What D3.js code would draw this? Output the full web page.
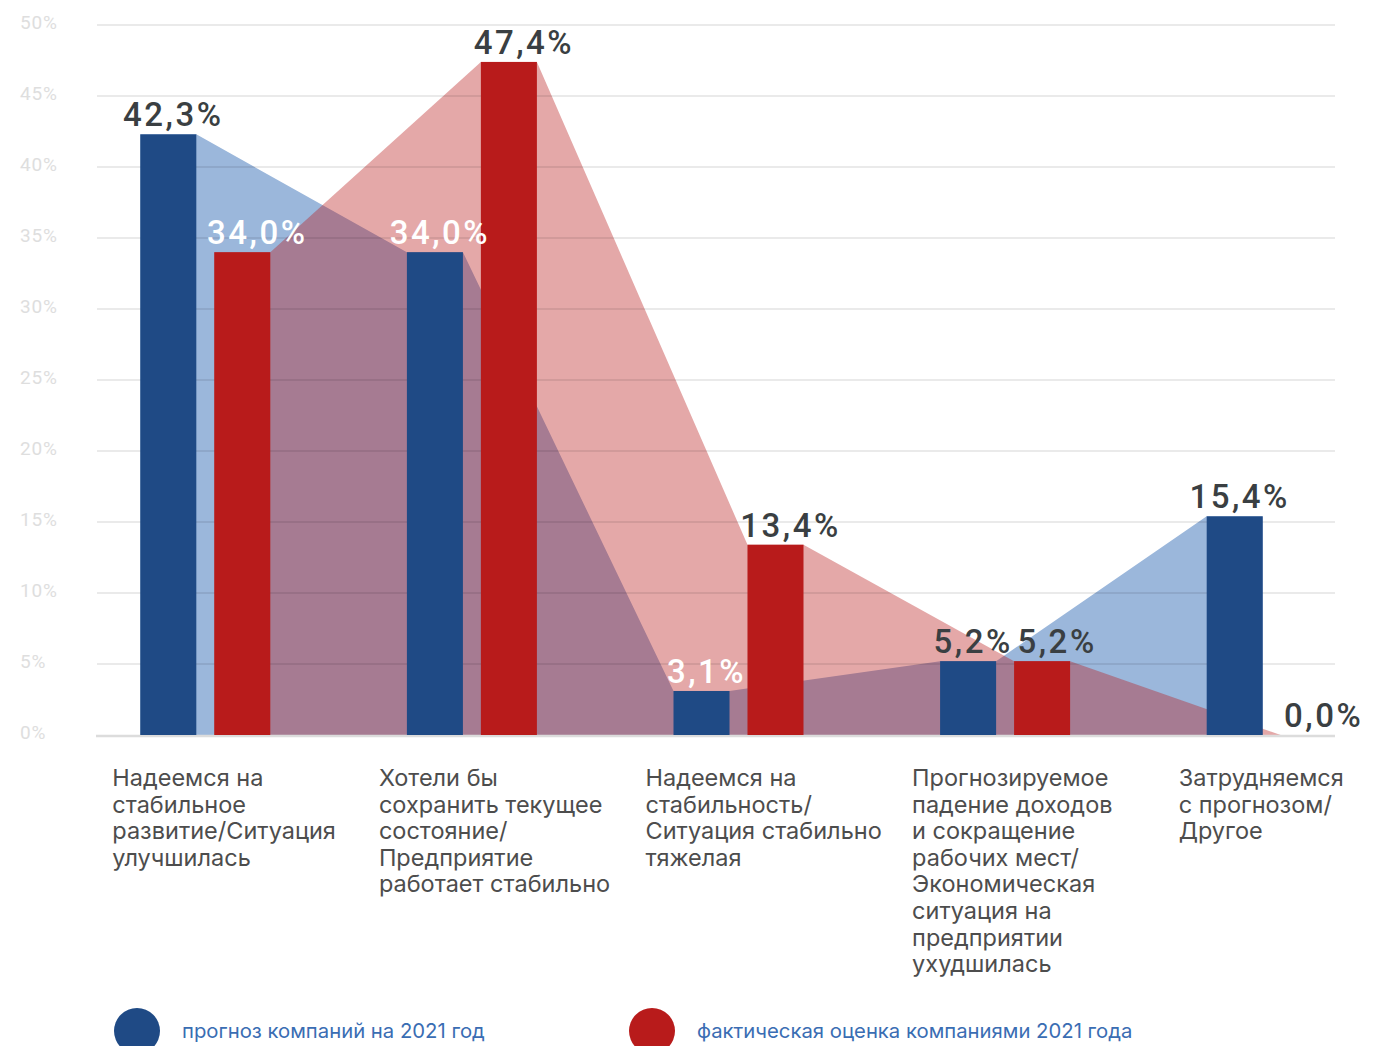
<!DOCTYPE html>
<html>
<head>
<meta charset="utf-8">
<script src="https://cdn.jsdelivr.net/npm/d3@7"></script>
<style>
  html, body { margin: 0; padding: 0; background: #fff; }
  svg { display: block; }
</style>
</head>
<body>
<svg id="chart"></svg>
<script>
const categories = [
  ['Надеемся на', 'стабильное', 'развитие/Ситуация', 'улучшилась'],
  ['Хотели бы', 'сохранить текущее', 'состояние/', 'Предприятие', 'работает стабильно'],
  ['Надеемся на', 'стабильность/', 'Ситуация стабильно', 'тяжелая'],
  ['Прогнозируемое', 'падение доходов', 'и сокращение', 'рабочих мест/', 'Экономическая', 'ситуация на', 'предприятии', 'ухудшилась'],
  ['Затрудняемся', 'с прогнозом/', 'Другое']
];
const forecast = [42.3, 34.0, 3.1, 5.2, 15.4];
const actual = [34.0, 47.4, 13.4, 5.2, 0.0];
const seriesNames = ['прогноз компаний на 2021 год', 'фактическая оценка компаниями 2021 года'];
const yTicks = [0, 5, 10, 15, 20, 25, 30, 35, 40, 45, 50];

const width = 1380, height = 1046;
const barColor = ['#1f4a85', '#b81b1b'];
const areaColor = ['#9bb7db', 'rgba(184,27,27,0.38)'];
const labelShift = [5, 15];

const svg = d3.select('#chart')
  .attr('width', width)
  .attr('height', height);

const y = d3.scaleLinear().domain([0, 50]).range([735, 25]);

const x0 = d3.scaleBand()
  .domain(d3.range(categories.length))
  .range([72, 1405]);

const x1 = d3.scaleBand()
  .domain([0, 1])
  .range([x0.bandwidth() / 2 - 65, x0.bandwidth() / 2 + 65])
  .paddingInner(0.243);

const series = [forecast, actual];
const fmt = v => v.toFixed(1).replace('.', ',') + '%';

// y tick labels
svg.append('g')
  .selectAll('text')
  .data(yTicks)
  .join('text')
  .attr('x', 20)
  .attr('y', d => y(d) + 4)
  .attr('font-family', 'Roboto, sans-serif')
  .attr('font-size', 19)
  .attr('letter-spacing', 0.8)
  .attr('fill', '#dedede')
  .text(d => d + '%');

// areas between bar tops
const area = d3.area()
  .x(d => d.x)
  .y0(y(0))
  .y1(d => y(d.v));

const areaPoints = s => series[s].flatMap((v, i) => {
  const left = x0(i) + x1(s);
  return [{x: left, v}, {x: left + x1.bandwidth(), v}];
});

const lineAt = (s, px) => {
  const pts = areaPoints(s);
  if (px < pts[0].x || px > pts[pts.length - 1].x) return null;
  for (let k = 0; k < pts.length - 1; k++) {
    const a = pts[k], b = pts[k + 1];
    if (px >= a.x && px <= b.x) {
      const t = (px - a.x) / (b.x - a.x || 1);
      return y(a.v + (b.v - a.v) * t);
    }
  }
  return null;
};

svg.append('g')
  .selectAll('path')
  .data([0, 1])
  .join('path')
  .attr('d', s => area(areaPoints(s)))
  .attr('fill', s => areaColor[s]);

// grid lines over areas
svg.append('g')
  .selectAll('line')
  .data(yTicks.filter(d => d > 0))
  .join('line')
  .attr('x1', 97)
  .attr('x2', 1335)
  .attr('y1', d => y(d))
  .attr('y2', d => y(d))
  .attr('stroke', 'rgba(0,0,0,0.11)')
  .attr('stroke-width', 1.4);

svg.append('line')
  .attr('x1', 96)
  .attr('x2', 1335)
  .attr('y1', y(0) + 1)
  .attr('y2', y(0) + 1)
  .attr('stroke', '#dcdcdc')
  .attr('stroke-width', 2.5);

// bars
const groups = svg.append('g')
  .selectAll('g')
  .data(categories)
  .join('g')
  .attr('transform', (d, i) => `translate(${x0(i)},0)`);

groups.selectAll('rect')
  .data((d, i) => series.map((arr, s) => ({s, v: arr[i]})))
  .join('rect')
  .attr('x', d => x1(d.s))
  .attr('width', x1.bandwidth())
  .attr('y', d => y(d.v))
  .attr('height', d => y(0) - y(d.v))
  .attr('fill', d => barColor[d.s]);

// value labels: white when sitting well inside the other series' area
const labels = [];
series.forEach((arr, s) => arr.forEach((v, i) => {
  const cx = x0(i) + x1(s) + x1.bandwidth() / 2 + labelShift[s];
  const base = y(v) - 8;
  const other = lineAt(1 - s, cx);
  const inside = other !== null && other < base - 24 - 20;
  labels.push({v, cx, base, inside});
}));

svg.append('g')
  .selectAll('text')
  .data(labels)
  .join('text')
  .attr('x', d => d.cx)
  .attr('y', d => d.base)
  .attr('text-anchor', 'middle')
  .attr('font-family', 'Roboto, sans-serif')
  .attr('font-weight', 500)
  .attr('font-size', 33)
  .attr('letter-spacing', 2.5)
  .attr('fill', d => d.inside ? '#ffffff' : '#3a3f42')
  .text(d => fmt(d.v));

// category labels
svg.append('g')
  .selectAll('text')
  .data(categories)
  .join('text')
  .attr('x', (d, i) => x0(i) + x0.bandwidth() / 2 - 93)
  .attr('y', 786)
  .attr('font-family', 'Inter, sans-serif')
  .attr('font-size', 23.5)
  .attr('fill', '#4d4d4d')
  .selectAll('tspan')
  .data(d => d)
  .join('tspan')
  .attr('x', function () { return d3.select(this.parentNode).attr('x'); })
  .attr('dy', (d, k) => k === 0 ? 0 : 26.6)
  .text(d => d);

// legend
const legendX = [137, 652];
const legend = svg.append('g')
  .selectAll('g')
  .data(seriesNames)
  .join('g')
  .attr('transform', (d, s) => `translate(${legendX[s]},1031)`);

legend.append('circle')
  .attr('r', 23)
  .attr('fill', (d, s) => barColor[s]);

legend.append('text')
  .attr('x', 45)
  .attr('y', 7)
  .attr('font-family', 'Inter, sans-serif')
  .attr('font-size', 20.3)
  .attr('fill', '#3a6db3')
  .text(d => d);
</script>
</body>
</html>
